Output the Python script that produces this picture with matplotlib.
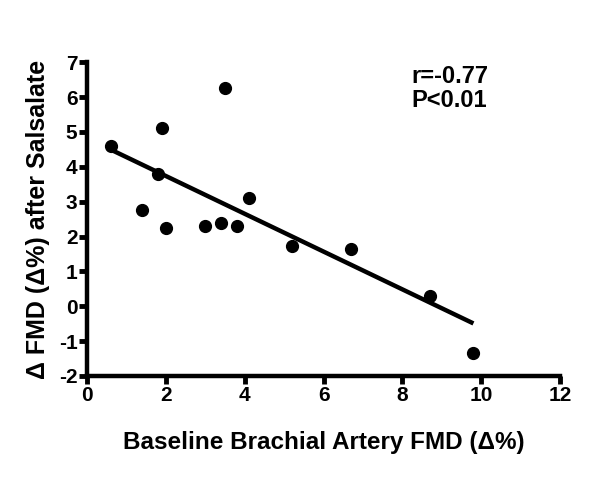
import numpy as np
import matplotlib.pyplot as plt

plt.rcParams['font.family'] = ['Liberation Sans', 'DejaVu Sans']
plt.rcParams['font.weight'] = 'bold'
plt.rcParams['axes.unicode_minus'] = False

# baseline brachial FMD vs change in FMD after salsalate
baseline_fmd = [0.6, 1.4, 1.8, 1.9, 2.0, 3.0, 3.4, 3.5, 3.8, 4.1, 5.2, 6.7, 8.7, 9.8]
delta_fmd = [4.6, 2.75, 3.8, 5.1, 2.25, 2.3, 2.38, 6.25, 2.3, 3.1, 1.72, 1.63, 0.3, -1.33]

x_ticks = [0, 2, 4, 6, 8, 10, 12]
y_ticks = [-2, -1, 0, 1, 2, 3, 4, 5, 6, 7]

fig = plt.figure(figsize=(6.01, 4.82), dpi=100)
ax = fig.add_axes([0.145, 0.22, 0.787, 0.651])

ax.plot(baseline_fmd, delta_fmd, 'o', color='black', markersize=8.5, zorder=3)

# linear regression line over data range
slope, intercept = np.polyfit(baseline_fmd, delta_fmd, 1)
xs = np.array([min(baseline_fmd), max(baseline_fmd)])
ax.plot(xs, slope * xs + intercept, color='black', linewidth=3.2, solid_capstyle='butt')

ax.set_xlim(0, 12)
ax.set_ylim(-2, 7)
ax.set_xticks(x_ticks)
ax.set_yticks(y_ticks)

for side in ['top', 'right']:
    ax.spines[side].set_visible(False)
for side in ['left', 'bottom']:
    ax.spines[side].set_linewidth(3.2)
ax.spines['left'].set_bounds(-2, 7)
ax.spines['bottom'].set_bounds(0, 12)

ax.tick_params(width=3.5, length=6, labelsize=15, pad=1)
for lab in ax.get_xticklabels() + ax.get_yticklabels():
    lab.set_fontweight('bold')

ax.set_xlabel('Baseline Brachial Artery FMD (Δ%)', fontsize=17.5, fontweight='bold', labelpad=19)
ax.set_ylabel('Δ FMD (Δ%) after Salsalate', fontsize=18, fontweight='bold', labelpad=6)

ax.text(0.685, 0.99, 'r=-0.77\nP<0.01', transform=ax.transAxes, fontsize=17,
        fontweight='bold', va='top', ha='left', linespacing=1.05)

fig.savefig('out.png', dpi=100)
